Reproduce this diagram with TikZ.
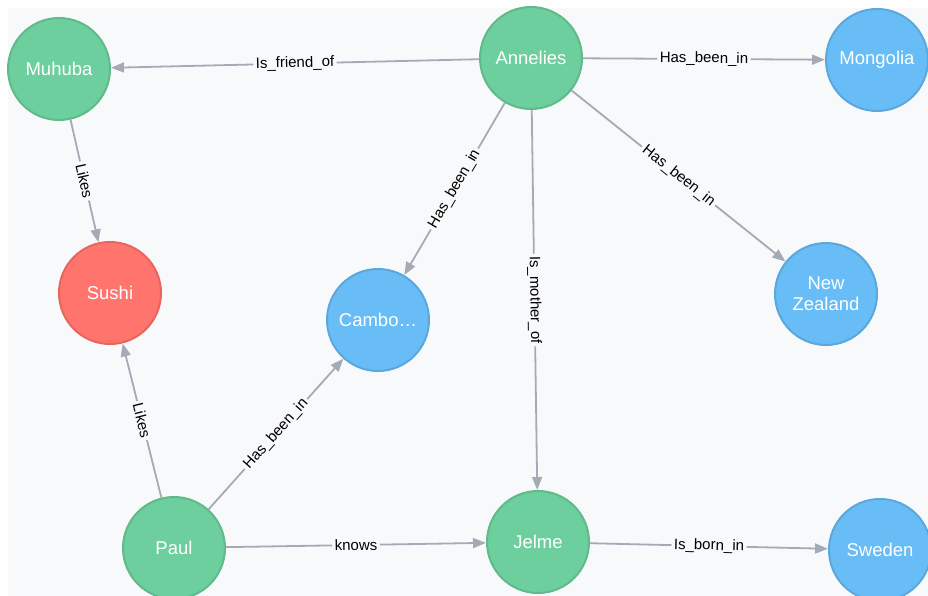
\documentclass[tikz,border=0pt]{standalone}
\usepackage{fontspec}
\setmainfont{Liberation Sans}
\usepackage{tikz}
\usetikzlibrary{arrows.meta, shapes.geometric}
\definecolor{canvasgrey}{RGB}{248, 249, 251}
\definecolor{persongreen}{RGB}{109, 206, 158}
\definecolor{persongreenline}{RGB}{96, 186, 138}
\definecolor{foodred}{RGB}{255, 117, 110}
\definecolor{foodredline}{RGB}{232, 100, 94}
\definecolor{placeblue}{RGB}{104, 189, 246}
\definecolor{placeblueline}{RGB}{90, 168, 220}
\definecolor{edgegrey}{RGB}{165, 171, 182}

\begin{document}
\begin{tikzpicture}[
			x=1pt, y=-1pt,
			entity/.style={circle, line width=2pt, minimum size=102pt, inner sep=0pt, align=center, text=white, font=\fontsize{18.5}{21}\selectfont},
			person/.style={entity, fill=persongreen, draw=persongreenline},
			food/.style={entity, fill=foodred, draw=foodredline},
			place/.style={entity, fill=placeblue, draw=placeblueline},
			rel/.style={-{Triangle[length=13pt, width=10pt]}, line width=1.8pt, draw=edgegrey},
			rellabel/.style={sloped, fill=canvasgrey, inner sep=2.5pt, text=black, font=\fontsize{15}{17}\selectfont}
		]
		% Canvas
		\useasboundingbox (0,0) rectangle (928,596);
		\fill[white] (0,0) rectangle (928,596);
		\fill[canvasgrey] (8,8) rectangle (928,596);
		
		% People
		\node[person] (muhuba) at (59,69) {Muhuba};
		\node[person] (annelies) at (531,58) {Annelies};
		\node[person] (paul) at (174,548) {Paul};
		\node[person] (jelme) at (538,542) {Jelme};
		
		% Food
		\node[food] (sushi) at (110,293) {Sushi};
		
		% Places
		\node[place] (mongolia) at (877,60) {Mongolia};
		\node[place] (cambodia) at (378,320) {Cambo…};
		\node[place] (newzealand) at (826,294) {New\\Zealand};
		\node[place] (sweden) at (880,550) {Sweden};
		
		% Relations
		\draw[rel] (annelies) -- node[rellabel] {Is\_friend\_of} (muhuba);
		\draw[rel] (annelies) -- node[rellabel] {Has\_been\_in} (mongolia);
		\draw[rel] (annelies) -- node[rellabel] {Has\_been\_in} (cambodia);
		\draw[rel] (annelies) -- node[rellabel] {Has\_been\_in} (newzealand);
		\draw[rel] (annelies) -- node[rellabel] {Is\_mother\_of} (jelme);
		\draw[rel] (muhuba) -- node[rellabel] {Likes} (sushi);
		\draw[rel] (paul) -- node[rellabel] {Likes} (sushi);
		\draw[rel] (paul) -- node[rellabel] {Has\_been\_in} (cambodia);
		\draw[rel] (paul) -- node[rellabel] {knows} (jelme);
		\draw[rel] (jelme) -- node[rellabel] {Is\_born\_in} (sweden);
		\end{tikzpicture}
\end{document}
